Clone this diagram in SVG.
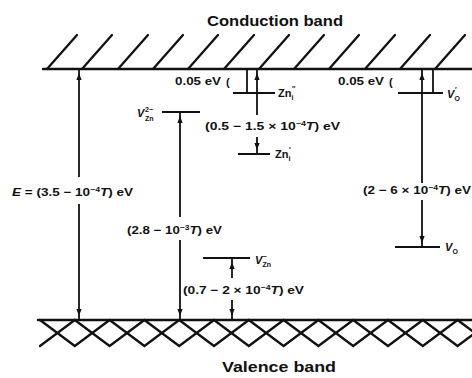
<svg xmlns="http://www.w3.org/2000/svg" width="472" height="378" viewBox="0 0 472 378">
<style>
text{font-family:"Liberation Sans",Arial,sans-serif;font-weight:bold;fill:#111}
.band{font-size:14px}
.lab{font-size:11px}
.sup{font-size:7px}
.sm{font-size:7px}
.it{font-style:italic}
.ln{stroke:#111;stroke-width:2.4;fill:none;stroke-linecap:round}
.hatch{stroke:#111;stroke-width:2.3;fill:none;stroke-linecap:round}
.lv{stroke:#111;stroke-width:2;fill:none}
.v{stroke:#111;stroke-width:1.8;fill:none}
.ah{fill:#111}
</style>
<defs>
<path id="up" class="ah" d="M0,0 L-2.6,7 L2.6,7 Z"/>
<path id="dn" class="ah" d="M0,0 L-2.6,-7 L2.6,-7 Z"/>
</defs>
<rect width="472" height="378" fill="#fff"/>

<g id="conduction-band">
<path class="ln" d="M43,69 H472"/>
<path class="hatch" d="M47,69 L77,35 M82,69 L112,35 M118,69 L148,35 M153,69 L183,35 M188,69 L218,35 M224,69 L254,35 M259,69 L289,35 M294,69 L324,35 M329,69 L359,35 M365,69 L395,35 M400,69 L430,35 M435,69 L465,35"/>
<text class="band" x="207" y="26" textLength="136" lengthAdjust="spacingAndGlyphs">Conduction band</text>
</g>

<g id="valence-band">
<path class="ln" d="M38,320 H472"/>
<path class="hatch" d="M40,320 L74.8,346 L109.6,320 L144.4,346 L179.2,320 L214,346 L248.8,320 L283.6,346 L318.4,320 L353.2,346 L388,320 L422.8,346 L457.6,320 L492.4,346"/>
<path class="hatch" d="M40,346 L74.8,320 L109.6,346 L144.4,320 L179.2,346 L214,320 L248.8,346 L283.6,320 L318.4,346 L353.2,320 L388,346 L422.8,320 L457.6,346 L492.4,320"/>
<text class="band" x="222" y="372" textLength="114" lengthAdjust="spacingAndGlyphs">Valence band</text>
</g>

<g id="zn-i2">
<path class="lv" d="M233,93 H275"/>
<text class="lab" x="278" y="97">Zn<tspan class="sm" x="291.5" y="100">i</tspan><tspan class="sm" x="292" y="91">″</tspan></text>
</g>

<g id="zn-i1">
<path class="lv" d="M238,154 H270"/>
<text class="lab" x="275" y="158">Zn<tspan class="sm" x="288.5" y="161">i</tspan><tspan class="sm" x="289" y="152">′</tspan></text>
</g>

<g id="v-zn2">
<path class="lv" d="M162,112 H200"/>
<text class="lab" x="137" y="117"><tspan class="it">V</tspan><tspan class="sm" x="145" y="112">2−</tspan><tspan class="sm" x="145" y="121">Zn</tspan></text>
</g>

<g id="v-zn1">
<path class="lv" d="M203,258 H250"/>
<text class="lab" x="255" y="264"><tspan class="it">V</tspan><tspan class="sm" x="262.5" y="259">−</tspan><tspan class="sm" x="262.5" y="267">Zn</tspan></text>
</g>

<g id="v-o1">
<path class="lv" d="M398,93 H443"/>
<text class="lab" x="447" y="98"><tspan class="it">V</tspan><tspan class="sm" x="454.5" y="101">O</tspan><tspan class="sm" x="455" y="92">′</tspan></text>
</g>

<g id="v-o0">
<path class="lv" d="M395,247 H440"/>
<text class="lab" x="445" y="251"><tspan class="it">V</tspan><tspan class="sm" x="452.5" y="254">O</tspan></text>
</g>

<g id="connectors">
<path class="v" d="M79,69 V177 M79,204 V320"/>
<use href="#up" x="79" y="73"/>
<use href="#dn" x="79" y="316"/>

<path class="v" d="M180,112 V217 M180,240 V320"/>
<use href="#up" x="180" y="116"/>
<use href="#dn" x="180" y="316"/>

<path class="v" d="M247,69 V93"/>
<path class="v" d="M257,69 V115 M257,137 V154"/>
<use href="#up" x="257" y="73"/>
<use href="#dn" x="257" y="150"/>

<path class="v" d="M232,258 V278 M232,300 V320"/>
<use href="#up" x="232" y="262"/>
<use href="#dn" x="232" y="316"/>

<path class="v" d="M433,69 V93"/>
<path class="v" d="M422,69 V183 M422,200 V247"/>
<use href="#up" x="422" y="73"/>
<use href="#dn" x="422" y="243"/>
</g>

<g id="labels">
<text class="lab" x="175" y="85" textLength="46" lengthAdjust="spacingAndGlyphs">0.05 eV</text>
<text class="lab" x="226" y="86" font-size="14">(</text>
<text class="lab" x="338" y="85" textLength="46" lengthAdjust="spacingAndGlyphs">0.05 eV</text>
<text class="lab" x="389" y="86" font-size="14">(</text>

<text class="lab" x="205" y="130" textLength="135" lengthAdjust="spacingAndGlyphs">(0.5 − 1.5 × 10<tspan class="sup" dy="-4">−4</tspan><tspan class="it" dy="4">T</tspan>) eV</text>

<text class="lab" x="12" y="196" textLength="121" lengthAdjust="spacingAndGlyphs"><tspan class="it">E</tspan> = (3.5 − 10<tspan class="sup" dy="-4">−4</tspan><tspan class="it" dy="4">T</tspan>) eV</text>

<text class="lab" x="127" y="234" textLength="95" lengthAdjust="spacingAndGlyphs">(2.8 − 10<tspan class="sup" dy="-4">−3</tspan><tspan class="it" dy="4">T</tspan>) eV</text>

<text class="lab" x="183" y="294" textLength="121" lengthAdjust="spacingAndGlyphs">(0.7 − 2 × 10<tspan class="sup" dy="-4">−4</tspan><tspan class="it" dy="4">T</tspan>) eV</text>

<text class="lab" x="363" y="194" textLength="108" lengthAdjust="spacingAndGlyphs">(2 − 6 × 10<tspan class="sup" dy="-4">−4</tspan><tspan class="it" dy="4">T</tspan>) eV</text>
</g>
</svg>
